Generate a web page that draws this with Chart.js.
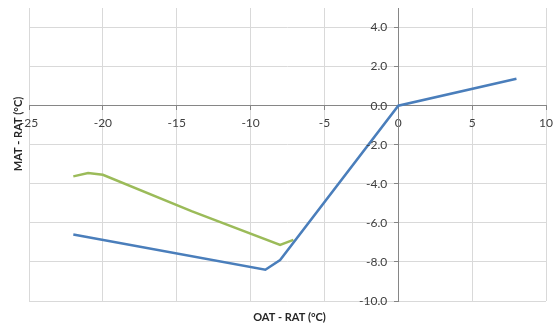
<!DOCTYPE html>
<html>
<head>
<meta charset="utf-8">
<script src="https://cdn.jsdelivr.net/npm/chart.js@4"></script>
<style>
  body { margin: 0; background: #fff; }
  #wrap { width: 554px; height: 325px; }
</style>
</head>
<body>
<div id="wrap"><canvas id="myChart"></canvas></div>
<script>
// blue series (OAT - RAT vs MAT - RAT)
const blueX = [-22, -9, -8, 0, 8];
const blueY = [-6.6, -8.4, -7.9, 0, 1.38];

// green series
const greenX = [-22, -21, -20, -14, -8, -7.1];
const greenY = [-3.62, -3.45, -3.54, -5.4, -7.13, -6.87];

const xTitle = 'OAT - RAT (°C)';
const yTitle = 'MAT - RAT (°C)';

const tickFont = '12px Lato';
const tickColor = '#404040';

function toPoints(xs, ys) {
  const pts = [];
  for (let i = 0; i < xs.length; i += 1) {
    pts.push({ x: xs[i], y: ys[i] });
  }
  return pts;
}

// axis titles sit at the edges, and y tick labels need a gap from the crossing axis
const axisText = {
  id: 'axisText',
  afterDraw(chart) {
    const ctx = chart.ctx;
    const area = chart.chartArea;
    const yScale = chart.scales.y;
    const axisX = chart.scales.x.getPixelForValue(0);
    ctx.save();
    ctx.fillStyle = tickColor;
    ctx.font = tickFont;
    ctx.textAlign = 'right';
    ctx.textBaseline = 'middle';
    yScale.ticks.forEach(t => {
      ctx.fillText(t.value.toFixed(1), axisX - 11, yScale.getPixelForValue(t.value));
    });

    ctx.fillStyle = '#262626';
    ctx.font = 'bold 11px Lato';
    ctx.textAlign = 'center';
    ctx.fillText(xTitle, (area.left + area.right) / 2 + 2, 317);
    ctx.translate(18, 134);
    ctx.rotate(-Math.PI / 2);
    ctx.fillText(yTitle, 0, 0);
    ctx.restore();
  }
};

const ctx = document.getElementById('myChart').getContext('2d');

const myChart = new Chart(ctx, {
  type: 'scatter',
  data: {
    datasets: [{
      label: 'Blue',
      data: toPoints(blueX, blueY),
      showLine: true,
      borderColor: 'rgb(74, 126, 187)',
      backgroundColor: 'rgb(74, 126, 187)',
      borderWidth: 2.5,
      pointRadius: 0,
      tension: 0
    }, {
      label: 'Green',
      data: toPoints(greenX, greenY),
      showLine: true,
      borderColor: 'rgb(155, 187, 89)',
      backgroundColor: 'rgb(155, 187, 89)',
      borderWidth: 2.5,
      pointRadius: 0,
      tension: 0
    }]
  },
  options: {
    responsive: true,
    maintainAspectRatio: false,
    animation: false,
    layout: { padding: { left: 29, right: 8, top: 8, bottom: 24 } },
    plugins: {
      legend: { display: false },
      tooltip: { enabled: false }
    },
    scales: {
      x: {
        type: 'linear',
        position: { y: 0 },
        min: -25,
        max: 10,
        afterFit: (scale) => {
          scale.paddingLeft = 0;
          scale.paddingRight = 0;
        },
        ticks: {
          stepSize: 5,
          color: tickColor,
          font: { family: 'Lato', size: 12 },
          padding: 6,
          maxRotation: 0,
          autoSkip: false
        },
        grid: { color: '#d9d9d9', tickColor: '#868686', tickLength: 4 },
        border: { color: '#868686', width: 1 }
      },
      y: {
        type: 'linear',
        position: { x: 0 },
        min: -10,
        max: 5,
        ticks: {
          stepSize: 2,
          includeBounds: false,
          display: false
        },
        grid: { color: '#d9d9d9', tickColor: '#868686', tickLength: 4 },
        border: { color: '#868686', width: 1 }
      }
    }
  },
  plugins: [axisText]
});
</script>
</body>
</html>
